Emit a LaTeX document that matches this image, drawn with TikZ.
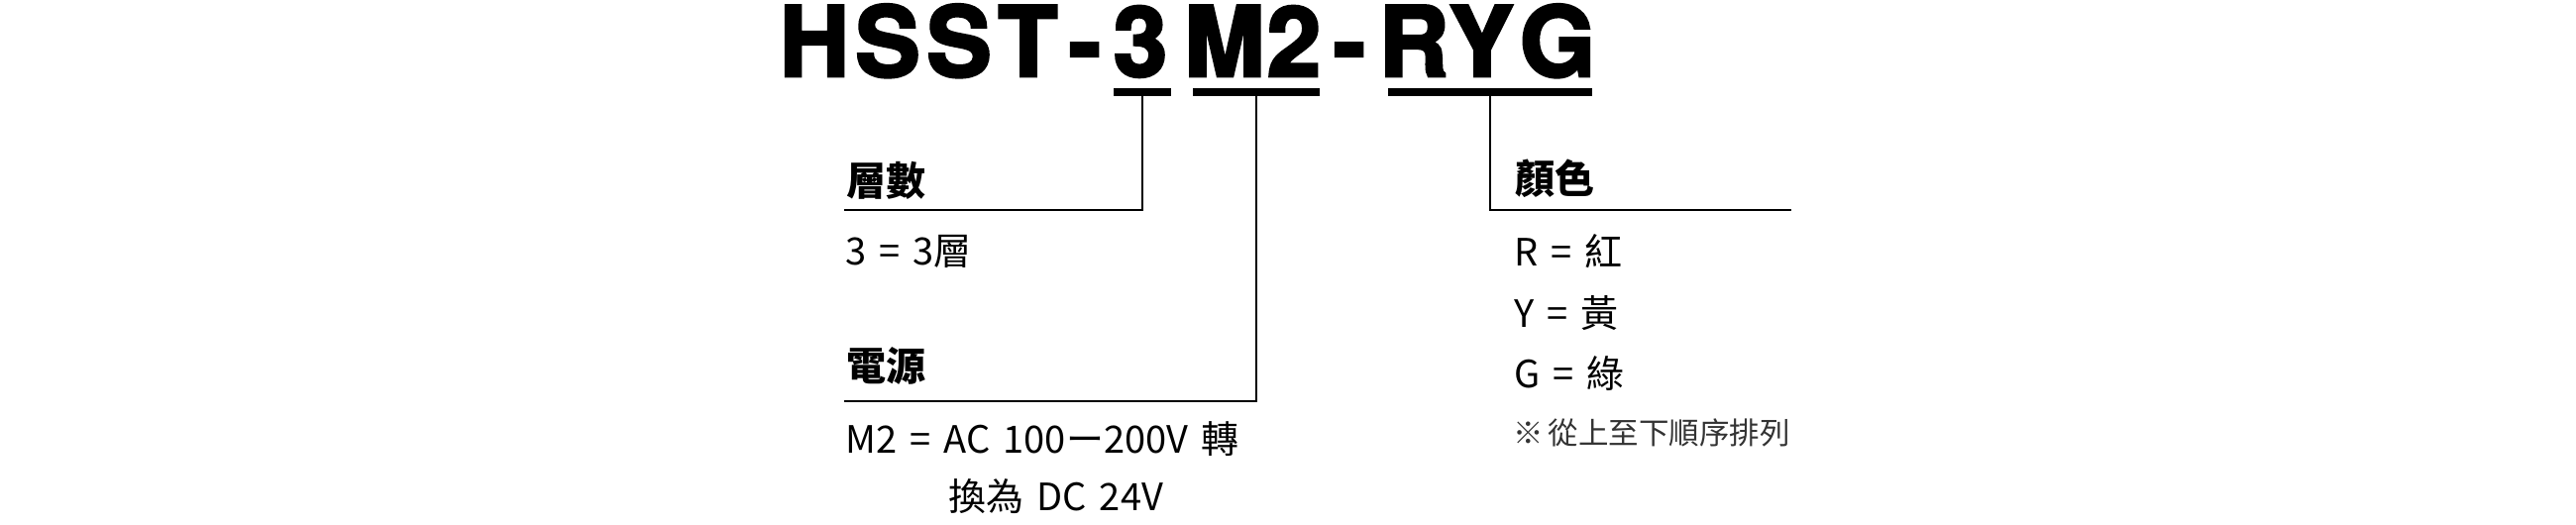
\documentclass[tikz,border=0pt]{standalone}
\usepackage{fontspec}
\newfontfamily\titlefont{TeX Gyre Heros}[BoldFeatures={FakeBold=3}]
\newfontfamily\cjk{Noto Sans CJK TC}
\newfontfamily\cjkw{Noto Sans CJK TC}[WordSpace=1.55]
\begin{document}
\begin{tikzpicture}[x=1pt,y=-1pt,
  ttl/.style={font=\titlefont\bfseries\fontsize{98}{98}\selectfont, inner sep=0pt, anchor=base},
  bar/.style={fill=black, inner sep=0pt, minimum height=8pt, draw=none},
  conn/.style={line width=1.6pt},
  head/.style={font=\cjk\bfseries\fontsize{40}{40}\selectfont, anchor=base west, inner sep=0pt},
  body/.style={font=\cjkw\fontsize{38}{38}\selectfont, anchor=base west, inner sep=0pt},
  note/.style={font=\cjk\fontsize{30.5}{30.5}\selectfont, anchor=base west, inner sep=0pt, text=black!80}]
\useasboundingbox (0,0) rectangle (2600,530);
% title characters
\node[ttl] (tH)  at (822,77)    {H};
\node[ttl] (tS1) at (896,77)    {S};
\node[ttl] (tS2) at (968,77)    {S};
\node[ttl] (tT)  at (1037.5,77) {T};
\node[ttl] (tD1) at (1095,77)   {-};
\node[ttl] (t3)  at (1151,77)   {3};
\node[ttl] (tM)  at (1236,77)   {M};
\node[ttl] (t2)  at (1306,77)   {2};
\node[ttl] (tD2) at (1362,77)   {-};
\node[ttl] (tR)  at (1427,77)   {R};
\node[ttl] (tY)  at (1495,77)   {Y};
\node[ttl] (tG)  at (1572,77)   {G};
% underline bars
\node[bar, minimum width=58pt]  (bar1) at (1153,93) {};
\node[bar, minimum width=128pt] (bar2) at (1268,93) {};
\node[bar, minimum width=206pt] (bar3) at (1504,93) {};
% line end points
\coordinate (c1) at (852,212);
\coordinate (c2) at (852,405);
\coordinate (c3) at (1808,212);
\draw[conn] (bar1.south) |- (c1);
\draw[conn] (bar2.south) |- (c2);
\draw[conn] (bar3.south) |- (c3);
% left column
\node[head] (h1) at (854,197) {層數};
\node[body] (v1) at (853,267) {3 = 3層};
\node[head] (h2) at (854,384) {電源};
\node[body] (v2) at (853,457) {M2 = AC 100ー200V 轉};
\node[body] (v3) at (957,515) {換為 DC 24V};
% right column
\node[head] (h3) at (1529,195) {顏色};
\node[body] (r1) at (1528,268) {R = 紅};
\node[body] (r2) at (1528,330) {Y = 黃};
\node[body] (r3) at (1528,391) {G = 綠};
\node[note] (n1) at (1527,448) {※\hspace{5pt}從上至下順序排列};
\end{tikzpicture}
\end{document}
